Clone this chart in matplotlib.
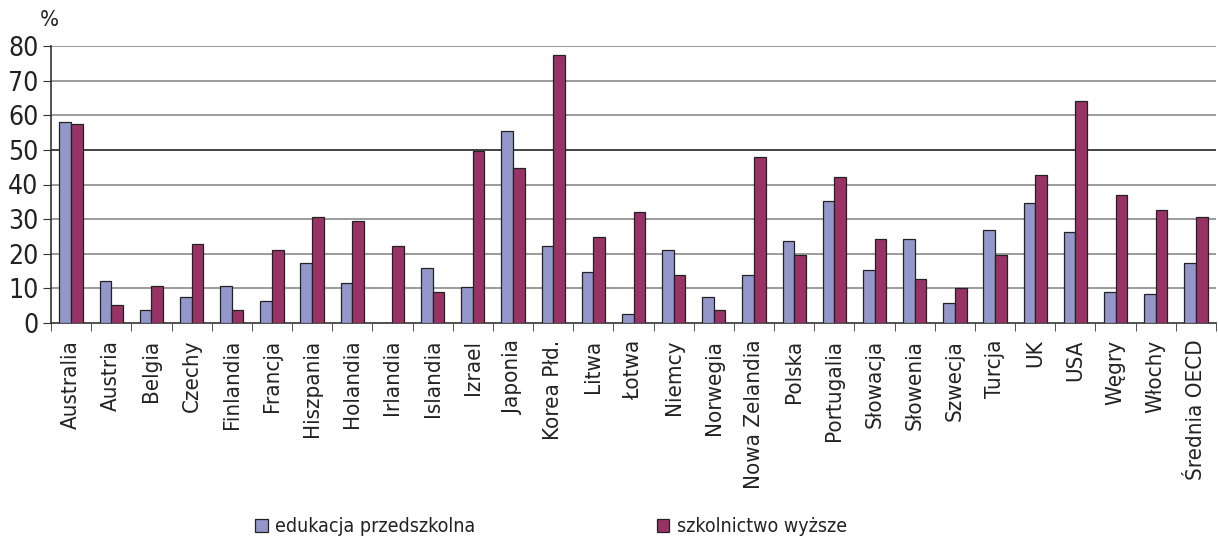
import matplotlib
matplotlib.use("Agg")
import matplotlib.pyplot as plt
import numpy as np

categories = ["Australia", "Austria", "Belgia", "Czechy", "Finlandia", "Francja", "Hiszpania",
              "Holandia", "Irlandia", "Islandia", "Izrael", "Japonia", "Korea Płd.", "Litwa",
              "Łotwa", "Niemcy", "Norwegia", "Nowa Zelandia", "Polska", "Portugalia", "Słowacja",
              "Słowenia", "Szwecja", "Turcja", "UK", "USA", "Węgry", "Włochy", "Średnia OECD"]
przedszkolna = [58.1, 12.0, 3.8, 7.6, 10.8, 6.3, 17.2, 11.5, 0, 16.0, 10.3, 55.5, 22.3, 14.6,
                2.5, 21.1, 7.6, 14.0, 23.6, 35.1, 15.3, 24.3, 5.7, 26.9, 34.6, 26.2, 8.9, 8.3, 17.2]
wyzsze = [57.6, 5.1, 10.8, 22.9, 3.7, 21.1, 30.6, 29.5, 22.3, 8.9, 49.8, 44.7, 77.4, 24.9,
          32.0, 14.0, 3.7, 47.9, 19.7, 42.2, 24.3, 12.7, 10.2, 19.7, 42.8, 64.0, 37.1, 32.5, 30.6]
yticks = [0, 10, 20, 30, 40, 50, 60, 70, 80]
legend_labels = ["edukacja przedszkolna", "szkolnictwo wyższe"]

plt.rcParams['font.family'] = ['DejaVu Sans']
plt.rcParams['font.stretch'] = 'condensed'

fig = plt.figure(figsize=(12.18, 5.40), dpi=100)
ax = fig.add_axes([51/1218, 1 - 323/540, (1216 - 51)/1218, (323 - 46)/540])

x = np.arange(len(categories))
w = 0.29
blue = "#9497c9"
red = "#993366"
ax.bar(x - w/2, przedszkolna, w, color=blue, edgecolor="#222222", linewidth=0.9, zorder=3,
       label=legend_labels[0])
ax.bar(x + w/2, wyzsze, w, color=red, edgecolor="#222222", linewidth=0.9, zorder=3,
       label=legend_labels[1])

ax.set_xlim(-0.5, len(categories) - 0.5)
ax.set_ylim(0, 80)
ax.set_yticks(yticks)
ax.set_yticklabels([str(v) for v in yticks], fontsize=19, color="#222222")
for v in yticks[1:]:
    ax.axhline(v, color="#222222" if v == 50 else "#8a8a8a", linewidth=1.2, zorder=1)

ax.set_xticks(x)
ax.set_xticklabels(categories, rotation=90, fontsize=16, color="#222222")
ax.set_xticks(np.arange(len(categories) + 1) - 0.5, minor=True)
ax.tick_params(axis="x", which="major", length=0, pad=12)
ax.tick_params(axis="x", which="minor", length=6, direction="out", color="#333333")
ax.tick_params(axis="y", length=6, direction="out", pad=3, color="#333333")

for s in ["top", "right"]:
    ax.spines[s].set_visible(False)
ax.spines["left"].set_color("#333333")
ax.spines["bottom"].set_color("#333333")
ax.spines["left"].set_linewidth(1.2)
ax.spines["bottom"].set_linewidth(1.2)

fig.text(40/1218, 1 - 20/540, "%", fontsize=16, ha="left", va="center", color="#222222")

leg = fig.legend(loc="center left", bbox_to_anchor=(255/1218, 1 - 527/540), ncol=2, frameon=False,
                 fontsize=14, handlelength=0.65, handleheight=0.65, handletextpad=0.4,
                 columnspacing=9.3, borderpad=0, borderaxespad=0)
for t in leg.get_texts():
    t.set_color("#222222")

fig.savefig("out.png", dpi=100)
